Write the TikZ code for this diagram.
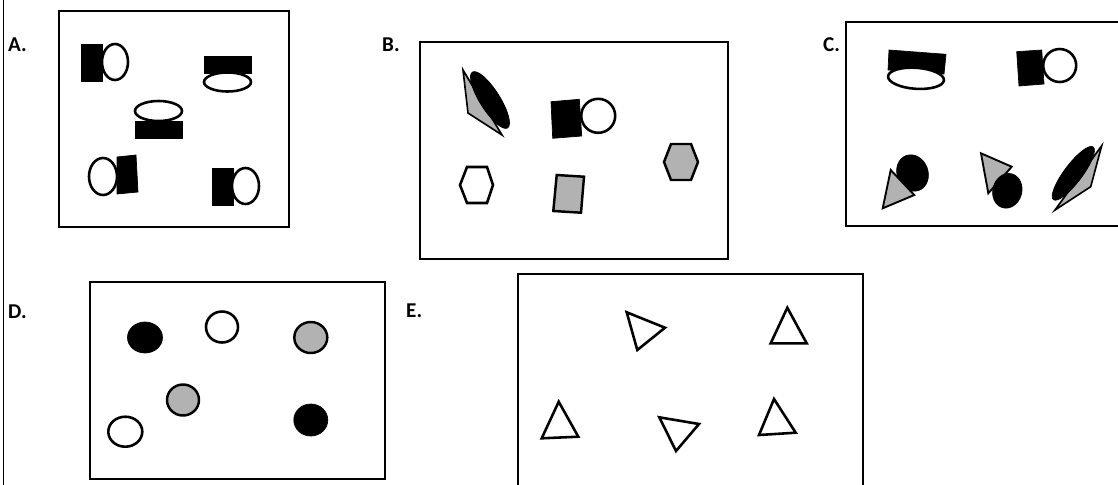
\documentclass[tikz,border=0pt]{standalone}
\usepackage{fontspec}
\newfontfamily\lblfont{Carlito}
\definecolor{shade}{RGB}{178,178,178}

\begin{document}
\begin{tikzpicture}[x=0.3mm,y=-0.3mm,
  panel/.style={draw,line width=1.5pt},
  blk/.style={fill=black,draw=black,line width=0.6pt},
  hollow/.style={draw,fill=white,line width=2.2pt},
  gry/.style={draw,fill=shade,line width=2.1pt},
  lbl/.style={anchor=west,inner sep=0pt,font=\lblfont\bfseries\fontsize{18}{18}\selectfont}]
  \useasboundingbox (0,0) rectangle (1118,484);
  \draw[line width=1.3pt] (3.5,-5) -- (3.5,490);
  % labels
  \node[lbl] (la) at (8,45) {A.};
  \node[lbl] (lb) at (382,45) {B.};
  \node[lbl] (lc) at (823,45) {C.};
  \node[lbl] (ld) at (8,312) {D.};
  \node[lbl] (le) at (406,311) {E.};
  % A
  \draw[panel] (59,11) rectangle (289,227);
  \draw[blk] (81,44) rectangle (102,81);
  \draw[hollow] (115,62) ellipse [x radius=13,y radius=18];
  \draw[blk] (204,56) rectangle (251,73);
  \draw[hollow] (227.5,82) ellipse [x radius=23.5,y radius=9.5];
  \draw[hollow] (158.5,111) ellipse [x radius=23.5,y radius=10];
  \draw[blk] (135,121) rectangle (182,138);
  \draw[hollow] (103,176.5) ellipse [x radius=14,y radius=18.5];
  \draw[blk] (117,157) -- (136,155) -- (138,192) -- (117,194) -- cycle;
  \draw[blk] (212,168) rectangle (233,205);
  \draw[hollow] (245.5,186) ellipse [x radius=13.5,y radius=18];
  % B
  \draw[panel] (420,42) rectangle (728,259);
  \draw[gry,line width=1.4pt] (463,70) -- (468,113) -- (502,135) -- cycle;
  \draw[blk,rotate around={-57.8:(490,100)}] (490,100) ellipse [x radius=33,y radius=10];
  \draw[blk] (551,101.7) -- (579.3,99.3) -- (581.7,136) -- (552.7,138.3) -- cycle;
  \draw[hollow] (598.2,115.8) circle [radius=17];
  \draw[gry] (664,162) -- (671,144) -- (691,144) -- (698,162) -- (691,180) -- (671,180) -- cycle;
  \draw[hollow] (460,185) -- (467,167) -- (487,167) -- (493,185) -- (487,203) -- (467,203) -- cycle;
  \draw[gry] (556.7,175) -- (584,176.7) -- (581,212.7) -- (553.3,211) -- cycle;
  % C
  \draw[panel] (1125,22) -- (846,22) -- (846,226) -- (1125,226);
  \draw[blk] (889,50) -- (946,54.3) -- (944,74) -- (888,70) -- cycle;
  \draw[hollow,rotate around={-4:(916,78.3)}] (916,78.3) ellipse [x radius=28,y radius=10.5];
  \draw[blk] (1016.7,51.7) -- (1041.7,50) -- (1044,84) -- (1019,86) -- cycle;
  \draw[hollow] (1059.7,65.5) circle [radius=16.5];
  \draw[blk,rotate around={20:(912.5,173)}] (912.5,173) ellipse [x radius=15.5,y radius=18.5];
  \draw[gry,line width=1.6pt] (890.7,170) -- (882.7,208.3) -- (914.3,195) -- cycle;
  \draw[gry,line width=1.6pt] (981,153.3) -- (1011.7,166.7) -- (988.3,193.3) -- cycle;
  \draw[blk,rotate around={-15:(1007.3,190.8)}] (1007.3,190.8) ellipse [x radius=14.5,y radius=17.5];
  \draw[gry,line width=1.4pt] (1101.7,145.7) -- (1090.7,186.7) -- (1055,210) -- cycle;
  \draw[blk,rotate around={53:(1073.3,173.3)}] (1073.3,173.3) ellipse [x radius=33,y radius=9];
  % D
  \draw[panel] (90,282.3) rectangle (385,479.3);
  \draw[blk] (145,337.5) ellipse [x radius=17.5,y radius=15.5];
  \draw[hollow] (222,327) ellipse [x radius=16,y radius=15.5];
  \draw[gry] (310.8,337.5) ellipse [x radius=16.5,y radius=15.5];
  \draw[gry] (183,400) ellipse [x radius=16,y radius=15.5];
  \draw[hollow] (125.3,431.7) ellipse [x radius=17,y radius=15];
  \draw[blk] (310.8,420) ellipse [x radius=17,y radius=16];
  % E
  \draw[panel] (518,490) -- (518,274.3) -- (862.7,274.3) -- (862.7,490);
  \draw[hollow] (626.7,312.3) -- (665,327.7) -- (637.3,350) -- cycle;
  \draw[hollow] (787.3,307.7) -- (770.7,343.3) -- (806.7,343.3) -- cycle;
  \draw[hollow] (558.7,401.7) -- (541.7,438.3) -- (578.3,436.7) -- cycle;
  \draw[hollow] (659.3,417.3) -- (699,424) -- (676,451) -- cycle;
  \draw[hollow] (774,399) -- (759,435) -- (795.7,432.7) -- cycle;
\end{tikzpicture}
\end{document}
